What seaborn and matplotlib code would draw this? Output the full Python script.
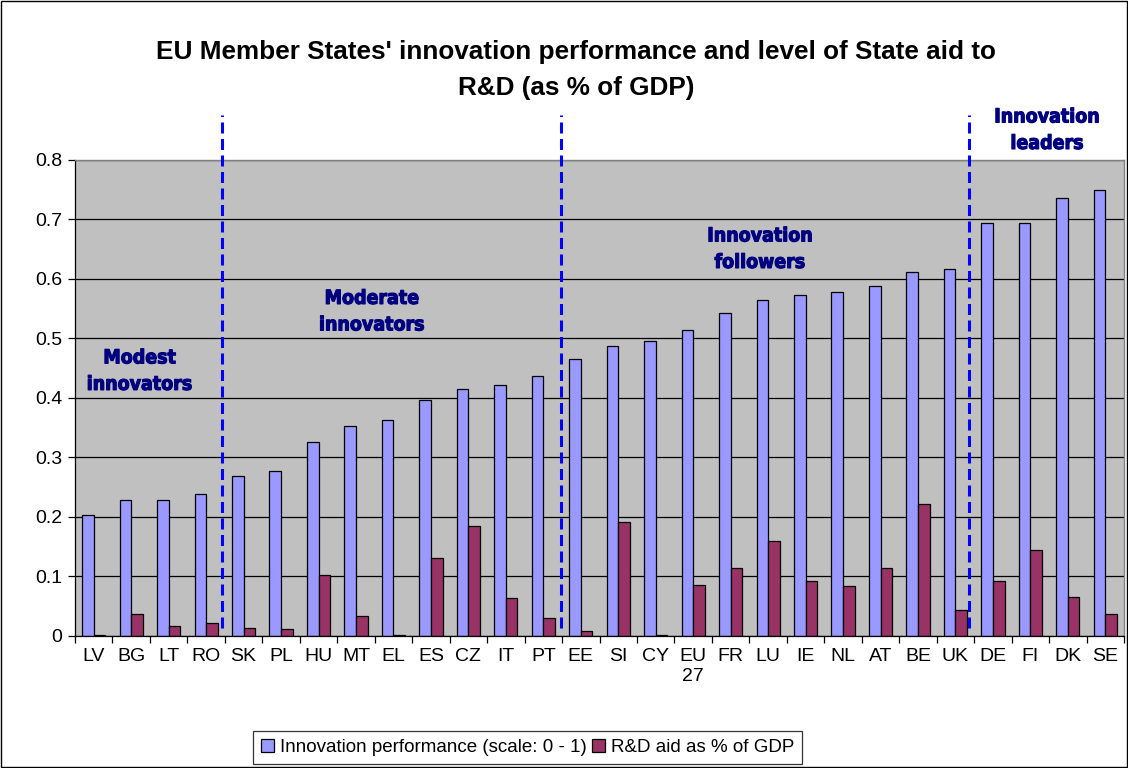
import pandas as pd
import matplotlib.pyplot as plt
import matplotlib.patheffects as pe
from matplotlib import font_manager
from matplotlib.patches import Rectangle
import seaborn as sns

# values
countries = ['LV', 'BG', 'LT', 'RO', 'SK', 'PL', 'HU', 'MT', 'EL', 'ES', 'CZ', 'IT', 'PT', 'EE',
             'SI', 'CY', 'EU\n27', 'FR', 'LU', 'IE', 'NL', 'AT', 'BE', 'UK', 'DE', 'FI', 'DK', 'SE']
innovation = [0.203, 0.228, 0.228, 0.239, 0.269, 0.277, 0.326, 0.352, 0.363, 0.396, 0.415, 0.421,
              0.437, 0.465, 0.488, 0.495, 0.515, 0.542, 0.564, 0.573, 0.578, 0.589, 0.612, 0.617,
              0.694, 0.694, 0.736, 0.750]
rd_aid = [0.002, 0.036, 0.017, 0.022, 0.013, 0.011, 0.103, 0.034, 0.002, 0.131, 0.184, 0.064,
          0.030, 0.008, 0.191, 0.002, 0.086, 0.114, 0.159, 0.092, 0.084, 0.114, 0.222, 0.044,
          0.092, 0.145, 0.066, 0.036]
series = ['Innovation performance (scale: 0 - 1)', 'R&D aid as % of GDP']

# group labels and separators (in category units)
groups = ['Modest\ninnovators', 'Moderate\ninnovators', 'Innovation\nfollowers', 'Innovation\nleaders']
group_x = [1.23, 7.43, 17.79, 25.45]
group_y = [0.445, 0.545, 0.650, 0.850]
separators = [3.41, 12.46, 23.37]

df = pd.DataFrame({
    'country': countries * 2,
    'value': innovation + rd_aid,
    'series': [series[0]] * len(countries) + [series[1]] * len(countries),
})

sns.set_theme(style="white")
plt.rcParams['font.family'] = ['Liberation Sans', 'DejaVu Sans']
plt.rcParams['text.color'] = 'black'
plt.rcParams['xtick.labelcolor'] = 'black'
plt.rcParams['ytick.labelcolor'] = 'black'

# narrow bold face for the group labels, if one is installed
fonts = font_manager.fontManager.ttflist
names = {f.name for f in fonts}
if 'Liberation Sans Narrow' in names:
    grp_font = dict(family=['Liberation Sans Narrow', 'Liberation Sans'], fontsize=16)
elif any(f.name == 'DejaVu Sans' and 'condensed' in str(f.stretch) for f in fonts):
    grp_font = dict(family=['DejaVu Sans'], fontstretch='condensed', fontsize=14)
else:
    grp_font = dict(family=['Liberation Sans'], fontsize=12.5)

fig = plt.figure(figsize=(11.28, 7.68), dpi=100)
ax = fig.add_axes([0.0665, 0.172, 0.93, 0.6197])

sns.barplot(data=df, x='country', y='value', hue='series', palette=['#9999FF', '#993366'],
            saturation=1, width=0.62, gap=0, edgecolor='black', linewidth=0.9, ax=ax)

ax.set_facecolor('#C0C0C0')
ax.set_ylim(0, 0.8)
ax.set_xlim(-0.5, len(countries) - 0.5)
ax.set_yticks([i / 10 for i in range(9)])
ax.set_yticklabels(['0'] + [f'{i / 10:.1f}' for i in range(1, 9)], fontsize=14)
ax.yaxis.grid(True, color='black', linewidth=0.9)
ax.set_axisbelow(True)
ax.set_xlabel('')
ax.set_ylabel('')
ax.tick_params(axis='x', length=0, labelsize=14, pad=9)
ax.tick_params(axis='y', length=5, width=0.9, color='black', left=True, pad=4)
ax.set_xticks([i - 0.5 for i in range(len(countries) + 1)], minor=True)
ax.tick_params(axis='x', which='minor', length=5, width=0.9, color='black', bottom=True)
for s in ['left', 'bottom']:
    ax.spines[s].set_color('black')
    ax.spines[s].set_linewidth(0.9)
for s in ['top', 'right']:
    ax.spines[s].set_color('#808080')
    ax.spines[s].set_linewidth(1.0)

for xs in separators:
    ax.plot([xs, xs], [0.013, 0.875], color='#0000FF', linestyle=(0, (3.6, 1.8)), linewidth=2.2,
            clip_on=False, zorder=5)

for txt, gx, gy in zip(groups, group_x, group_y):
    ax.text(gx, gy, txt, ha='center', va='center', color='#000080', fontweight='bold',
            linespacing=1.5, zorder=6,
            path_effects=[pe.withStroke(linewidth=0.8, foreground='#000080')], **grp_font)

fig.text(0.511, 0.909, "EU Member States' innovation performance and level of State aid to\nR&D (as % of GDP)",
         ha='center', va='center', fontsize=18.8, fontweight='bold', linespacing=1.6)

handles, labels = ax.get_legend_handles_labels()
ax.get_legend().remove()
leg = fig.legend(handles, labels, loc='center', bbox_to_anchor=(0.4677, 0.0267), ncol=2,
                 fontsize=13.5, frameon=True, fancybox=False, handlelength=0.7, handleheight=0.7,
                 handletextpad=0.3, columnspacing=0.3, borderpad=0.4, borderaxespad=0)
leg.get_frame().set_edgecolor('black')
leg.get_frame().set_linewidth(0.9)

fig.patches.append(Rectangle((0.001, 0.001), 0.998, 0.998, transform=fig.transFigure,
                             fill=False, edgecolor='black', linewidth=1))

fig.savefig('out.png', dpi=100)
